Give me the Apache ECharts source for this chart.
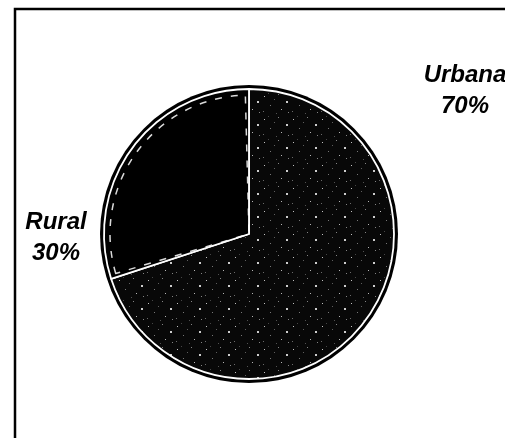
<!DOCTYPE html>
<html>
<head>
<meta charset="utf-8">
<script src="https://cdn.jsdelivr.net/npm/echarts@6/dist/echarts.min.js"></script>
<style>
  html, body { margin: 0; padding: 0; background: #fff; }
  #chart { width: 505px; height: 438px; }
</style>
</head>
<body>
<div id="chart"></div>
<script>
// Population share by area
const categories = ['Urbana', 'Rural'];
const shares = [70, 30];

// Label anchor points (px) for each slice
const labelSpots = [
  { x: 465, y: 91 },
  { x: 56, y: 238 }
];

const center = [249, 234];
const R = 145;

// Speckled fill texture: a dark tile with a few light specks
function speckleTile() {
  const w = 29, h = 23;
  const c = document.createElement('canvas');
  c.width = w; c.height = h;
  const g = c.getContext('2d');
  g.fillStyle = '#080808';
  g.fillRect(0, 0, w, h);
  const specks = [
    [3, 4, 0.75, 1], [17, 2, 0.5, 1], [25, 9, 0.8, 2], [9, 13, 0.45, 1],
    [20, 17, 0.7, 1], [2, 19, 0.4, 1], [13, 7, 0.35, 1], [27, 20, 0.5, 1],
    [7, 1, 0.25, 1], [15, 21, 0.3, 1]
  ];
  specks.forEach(([x, y, a, s]) => {
    g.fillStyle = 'rgba(255,255,255,' + a + ')';
    g.fillRect(x, y, s, s);
  });
  return c;
}

const pieData = categories.map((name, i) => ({ name, value: shares[i] }));

const chart = echarts.init(document.getElementById('chart'), null, { renderer: 'canvas' });

chart.setOption({
  backgroundColor: '#ffffff',
  animation: false,
  graphic: [
    {
      type: 'polyline',
      shape: { points: [[15, 445], [15, 9], [520, 9]] },
      style: { stroke: '#000', lineWidth: 2.5, fill: null },
      silent: true
    }
  ],
  series: [
    {
      // dark outline ring behind the pie
      type: 'pie',
      silent: true,
      center: center,
      radius: R + 4,
      startAngle: 90,
      label: { show: false },
      labelLine: { show: false },
      itemStyle: { color: '#000', borderWidth: 0 },
      data: [{ name: 'outline', value: 1 }]
    },
    {
      type: 'pie',
      center: center,
      radius: R,
      startAngle: 90,
      clockwise: true,
      itemStyle: { borderColor: '#ffffff', borderWidth: 1.8 },
      label: {
        show: true,
        formatter: '{b}\n{d}%',
        fontFamily: 'Liberation Sans, Arial, sans-serif',
        fontSize: 24,
        fontWeight: 'bold',
        fontStyle: 'italic',
        color: '#000',
        lineHeight: 31,
        align: 'center',
        overflow: 'none'
      },
      labelLine: { show: false },
      labelLayout: function (p) {
        const s = labelSpots[p.dataIndex];
        return { x: s.x, y: s.y, align: 'center', verticalAlign: 'middle', hideOverlap: false };
      },
      data: [
        {
          name: pieData[0].name,
          value: pieData[0].value,
          itemStyle: {
            color: { image: speckleTile(), repeat: 'repeat' }
          }
        },
        {
          name: pieData[1].name,
          value: pieData[1].value,
          itemStyle: { color: '#000000' }
        }
      ]
    },
    {
      // dashed inner edge of the rural slice
      type: 'pie',
      silent: true,
      center: center,
      radius: R - 6,
      startAngle: 90,
      clockwise: true,
      padAngle: 3,
      label: { show: false },
      labelLine: { show: false },
      data: [
        { name: 'u', value: shares[0], itemStyle: { color: 'transparent', borderWidth: 0 } },
        {
          name: 'r',
          value: shares[1],
          itemStyle: {
            color: 'transparent',
            borderColor: 'rgba(255,255,255,0.85)',
            borderWidth: 1.5,
            borderType: [7, 9]
          }
        }
      ]
    }
  ]
});
</script>
</body>
</html>
